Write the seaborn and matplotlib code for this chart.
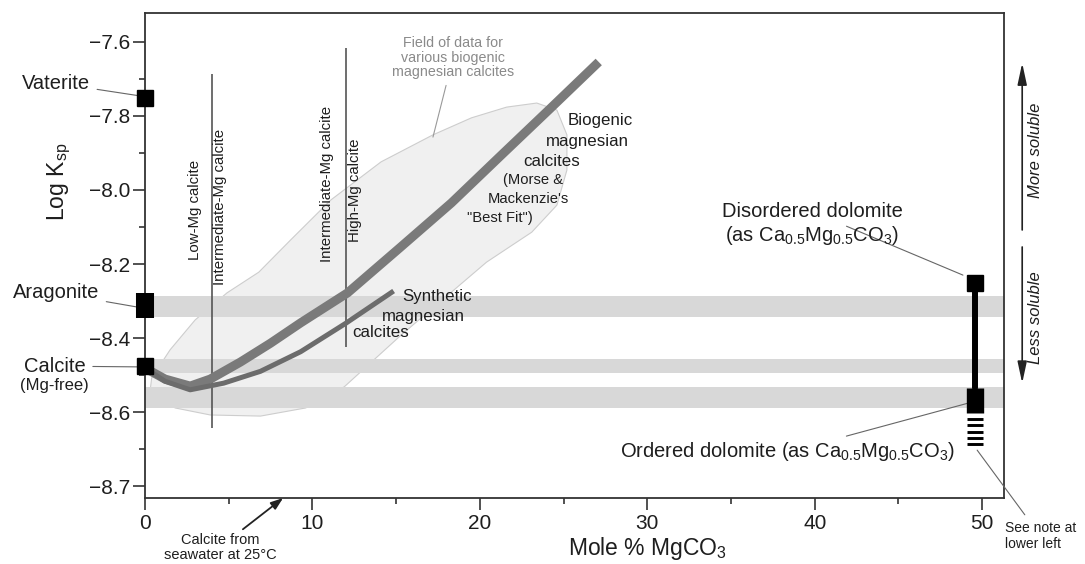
import numpy as np
import pandas as pd
import matplotlib
matplotlib.use("Agg")
import matplotlib.pyplot as plt
import seaborn as sns

# Curves: Log Ksp vs mole % MgCO3
x_biogenic = [0, 1.2, 2.7, 3.9, 5.7, 7.5, 9.3, 12.1, 15.2, 18.3, 21.3, 24.2, 27.1]
logk_biogenic = [-8.481, -8.511, -8.530, -8.511, -8.465, -8.414, -8.359, -8.278,
                 -8.157, -8.035, -7.905, -7.780, -7.654]
x_synthetic = [0, 1.2, 2.7, 4.7, 6.9, 9.3, 12.0, 14.85]
logk_synthetic = [-8.481, -8.517, -8.540, -8.522, -8.490, -8.437, -8.360, -8.273]

# Outline of the field of biogenic magnesian calcite data
field_x = [0.3, 1.8, 3.9, 6.9, 9.6, 11.9, 15.3, 20.4, 23.1, 24.6, 25.2, 25.2, 24.6,
           23.4, 21.6, 19.5, 17.2, 14.1, 11.1, 8.7, 6.8, 4.9, 3.0, 1.5, 0.4]
field_y = [-8.546, -8.589, -8.608, -8.611, -8.589, -8.532, -8.392, -8.195, -8.114,
           -8.041, -7.946, -7.851, -7.784, -7.765, -7.776, -7.805, -7.851, -7.924,
           -8.027, -8.135, -8.222, -8.278, -8.351, -8.432, -8.508]

# Horizontal solubility bands (aragonite, calcite, ordered dolomite)
band_low = [-8.343, -8.495, -8.589]
band_high = [-8.286, -8.457, -8.532]

# Low / intermediate / high Mg calcite boundaries
boundary_x = [4, 12]
boundary_top = [-7.686, -7.616]
boundary_bottom = [-8.643, -8.424]

# Pure phases
vaterite_logk = -7.751
aragonite_logk = [-8.346, -8.278]
calcite_logk = -8.476
dolomite_x = 49.6
disordered_logk = -8.251
ordered_logk = [-8.603, -8.535]
ordered_note_logk = [-8.618, -8.635, -8.653, -8.670, -8.686]
seawater_calcite_x = 8.25

x_ticks = [0, 10, 20, 30, 40, 50]
x_minor = [5, 15, 25, 35, 45]
# tick labels as printed on the original (last one reads -8.7)
y_ticks = [-7.6, -7.8, -8.0, -8.2, -8.4, -8.6, -8.8]
y_labels = ["-7.6", "-7.8", "-8.0", "-8.2", "-8.4", "-8.6", "-8.7"]
y_minor = [-7.7, -7.9, -8.1, -8.3, -8.5, -8.7]

sns.set_style("ticks")
plt.rcParams["font.family"] = ["Liberation Sans", "DejaVu Sans"]
plt.rcParams["mathtext.default"] = "regular"

fig = plt.figure(figsize=(10.85, 5.64), dpi=100)
ax = fig.add_axes([0.1336, 0.117, 0.7917, 0.860])

dark = "#1e1e1e"
lead = dict(arrowstyle="-", lw=0.8, color="#666666", shrinkA=3, shrinkB=0)

# field of data
ax.fill(field_x, field_y, facecolor="#f0f0f0", edgecolor="#cdcdcd", lw=0.8,
        joinstyle="round", zorder=1)

# gray bands
for lo, hi in zip(band_low, band_high):
    ax.axhspan(lo, hi, color="#d8d8d8", lw=0, zorder=1.5)

# boundaries
ax.vlines(boundary_x, boundary_bottom, boundary_top, color="#555555", lw=1.2, zorder=2)

# curves
curves = pd.DataFrame({"x": x_biogenic, "y": logk_biogenic})
sns.lineplot(data=curves, x="x", y="y", ax=ax, color="#7a7a7a", lw=6.5,
             solid_capstyle="butt", solid_joinstyle="round", zorder=3)
synth = pd.DataFrame({"x": x_synthetic, "y": logk_synthetic})
sns.lineplot(data=synth, x="x", y="y", ax=ax, color="#6c6c6c", lw=3.6,
             solid_capstyle="butt", solid_joinstyle="round", zorder=3)

# pure phases at 0 %
ax.plot([0], [vaterite_logk], marker="s", ms=11.5, color="black", clip_on=False, zorder=5)
ax.plot([0, 0], aragonite_logk, color="black", lw=13, solid_capstyle="butt",
        clip_on=False, zorder=5)
ax.plot([0], [calcite_logk], marker="s", ms=11, color="black", clip_on=False, zorder=5)

# dolomite
ax.plot([dolomite_x, dolomite_x], [disordered_logk, ordered_logk[1]], color="black",
        lw=4.3, zorder=4)
ax.plot([dolomite_x], [disordered_logk], marker="s", ms=12, color="black", zorder=5)
ax.plot([dolomite_x, dolomite_x], ordered_logk, color="black", lw=12.5,
        solid_capstyle="butt", zorder=5)
ax.hlines(ordered_note_logk, dolomite_x - 0.5, dolomite_x + 0.42, color="black",
          lw=2.1, zorder=5)

# axes
ax.set_xlim(0, 51.3)
ax.set_ylim(-8.8324, -7.5216)
ax.set_xticks(x_ticks)
ax.set_xticks(x_minor, minor=True)
ax.set_yticks(y_ticks)
ax.set_yticklabels([s.replace("-", "\u2212") for s in y_labels])
ax.set_yticks(y_minor, minor=True)
ax.set_xlabel("")
ax.set_ylabel("")
ax.tick_params(which="major", length=8.5, width=1.2, color="#333333",
               labelsize=15, labelcolor=dark)
ax.tick_params(which="minor", length=4.5, width=1.2, color="#333333")
ax.tick_params(axis="y", pad=2)
ax.tick_params(axis="x", pad=3)
for side in ["top", "right", "left", "bottom"]:
    ax.spines[side].set_visible(True)
    ax.spines[side].set_color("#333333")
    ax.spines[side].set_linewidth(1.3)

ax.text(-5.1, -7.978, r"Log K$_{sp}$", rotation=90, ha="center", va="center",
        fontsize=16.5, color=dark)
ax.text(30.0, -8.986, r"Mole % MgCO$_3$", ha="center", va="baseline",
        fontsize=16.5, color=dark)

# phase labels
ax.annotate("Vaterite", xy=(-0.4, -7.745), xytext=(-3.3, -7.711), ha="right",
            va="center", fontsize=14.5, color=dark, arrowprops=lead, annotation_clip=False)
ax.annotate("Aragonite", xy=(-0.5, -8.316), xytext=(-2.75, -8.278), ha="right",
            va="center", fontsize=14.5, color=dark, arrowprops=lead, annotation_clip=False)
ax.annotate("Calcite", xy=(-0.45, -8.478), xytext=(-5.4, -8.476), ha="center",
            va="center", fontsize=14.5, color=dark, arrowprops=lead, annotation_clip=False)
ax.text(-5.4, -8.527, "(Mg-free)", ha="center", va="center", fontsize=12, color=dark)

ax.annotate("Disordered dolomite", xy=(48.85, -8.23), xytext=(39.85, -8.059),
            ha="center", va="center", fontsize=14.5, color=dark, arrowprops=lead,
            annotation_clip=False)
ax.text(39.85, -8.122, r"(as Ca$_{0.5}$Mg$_{0.5}$CO$_3$)", ha="center", va="center",
        fontsize=14.5, color=dark)
ax.annotate(r"Ordered dolomite (as Ca$_{0.5}$Mg$_{0.5}$CO$_3$)", xy=(49.16, -8.576),
            xytext=(48.4, -8.708), ha="right", va="center", fontsize=14.5, color=dark,
            arrowprops=lead, annotation_clip=False)
ax.annotate("See note at\nlower left", xy=(49.7, -8.703), xytext=(51.35, -8.935),
            ha="left", va="center", fontsize=10, color=dark, linespacing=1.1,
            arrowprops=lead, annotation_clip=False)

# field and curve labels
ax.annotate("Field of data for\nvarious biogenic\nmagnesian calcites", xy=(17.2, -7.857),
            xytext=(18.4, -7.643), ha="center", va="center", fontsize=10.3,
            color="#8a8a8a", linespacing=1.05,
            arrowprops=dict(arrowstyle="-", lw=0.8, color="#999999", shrinkA=2, shrinkB=0))
for txt, x, y, fs in [("Biogenic", 27.2, -7.811, 12.2), ("magnesian", 26.43, -7.870, 12.2),
                      ("calcites", 24.3, -7.924, 12.2), ("(Morse &", 23.2, -7.973, 10.6),
                      ("Mackenzie's", 22.9, -8.024, 10.6), ("\"Best Fit\")", 21.2, -8.076, 10.6)]:
    ax.text(x, y, txt, ha="center", va="center", fontsize=fs, color=dark)
for txt, x, y in [("Synthetic", 15.35, -8.289), ("magnesian", 14.16, -8.343),
                  ("calcites", 12.37, -8.386)]:
    ax.text(x, y, txt, ha="left", va="center", fontsize=12.2, color=dark)

# composition boundaries
for txt, x, y in [("Low-Mg calcite", 2.99, -8.054), ("Intermediate-Mg calcite", 4.48, -8.046),
                  ("Intermediate-Mg calcite", 10.87, -7.984), ("High-Mg calcite", 12.54, -8.0)]:
    ax.text(x, y, txt, rotation=90, ha="center", va="center", fontsize=10.8, color=dark)

ax.annotate("Calcite from\nseawater at 25\u00b0C", xy=(seawater_calcite_x, -8.8324),
            xytext=(4.48, -8.965), ha="center", va="center", fontsize=10.5, color=dark,
            linespacing=1.1, annotation_clip=False,
            arrowprops=dict(arrowstyle="-|>,head_length=0.7,head_width=0.25", lw=1.3,
                            color="#222222", shrinkA=0, shrinkB=0))

# solubility arrows
sol_arrow = dict(arrowstyle="-|>,head_length=1.3,head_width=0.28", lw=1.2,
                 color="#222222", shrinkA=0, shrinkB=0)
ax.annotate("", xy=(52.39, -7.657), xytext=(52.39, -8.108), arrowprops=sol_arrow,
            annotation_clip=False)
ax.annotate("", xy=(52.39, -8.522), xytext=(52.39, -8.154), arrowprops=sol_arrow,
            annotation_clip=False)
ax.text(53.17, -7.892, "More soluble", rotation=90, ha="center", va="center",
        fontsize=12, style="italic", color=dark)
ax.text(53.17, -8.346, "Less soluble", rotation=90, ha="center", va="center",
        fontsize=12, style="italic", color=dark)

fig.savefig("out.png", dpi=100)
